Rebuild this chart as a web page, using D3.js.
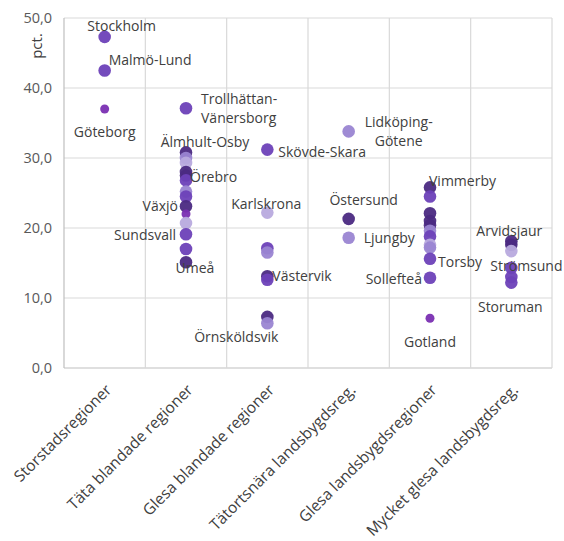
<!DOCTYPE html>
<html><head><meta charset="utf-8">
<script src="https://cdn.jsdelivr.net/npm/d3@7"></script>
<style>body{margin:0;background:#fff}svg{display:block}</style>
</head><body><svg id="c" width="564" height="541"></svg>
<script>
const categories = ["Storstadsregioner","Täta blandade regioner","Glesa blandade regioner","Tätortsnära landsbygdsreg.","Glesa landsbygdsregioner","Mycket glesa landsbygdsreg."];
const yTicks = [0,10,20,30,40,50];
// values per category (pct.)
const values = [
  [47.3, 42.5, 37.0],
  [37.1, 30.8, 30.0, 29.3, 28.0, 27.5, 26.8, 25.2, 24.5, 23.1, 22.0, 20.7, 19.1, 17.0, 15.1],
  [31.2, 22.2, 17.1, 16.5, 13.1, 12.6, 7.3, 6.4],
  [33.8, 21.3, 18.6],
  [25.8, 24.5, 22.1, 21.0, 20.4, 19.6, 18.8, 17.6, 17.2, 15.6, 12.9, 7.1],
  [18.1, 17.6, 16.7, 14.3, 13.0, 12.2]
];
// shade codes: d=dark, m=medium, l=light, x=lighter, s=small
const shades = [
  ["m","m","s"],
  ["m","d","l","x","d","d","m","l","m","d","s","x","m","m","d"],
  ["m","x","m","l","d","m","d","l"],
  ["l","d","l"],
  ["d","m","d","d","d","l","m","x","l","m","m","s"],
  ["d","d","x","m","m","m"]
];
// labelled regions: name, category index, point index
const labelNames = ["Stockholm","Malmö-Lund","Göteborg","Trollhättan-|Vänersborg","Älmhult-Osby","Örebro","Växjö","Sundsvall","Umeå",
  "Skövde-Skara","Karlskrona","Västervik","Örnsköldsvik","Lidköping-|Götene","Östersund","Ljungby",
  "Vimmerby","Torsby","Sollefteå","Gotland","Arvidsjaur","Strömsund","Storuman"];
const labelCat = [0,0,0,1,1,1,1,1,1,2,2,2,2,3,3,3,4,4,4,4,5,5,5];
const labelPt  = [0,1,2,0,1,5,9,12,14,0,1,4,6,0,1,2,0,9,10,11,0,3,5];

// layout (offsets from point, anchor)
const labelLayout = [
  [17,-11,"middle"],[4,-10,"start"],[0,23,"middle"],[15,0,"start"],[19,-10,"middle"],[4,2,"start"],[-8,0,"end"],[-10,1,"end"],[9,6,"middle"],
  [11,2,"start"],[-1,-9,"middle"],[5,0,"start"],[-31,20,"middle"],[50,0,"middle"],[15,-19,"middle"],[15,0,"start"],
  [-1,-6,"start"],[8,3,"start"],[-8,1,"end"],[0,24,"middle"],[-2,-10,"middle"],[-21,-2,"start"],[-1,24,"middle"]
];
const shadeColor = {d:"#4b2a82", m:"#6d41b8", l:"#9a85d2", x:"#b8aade", s:"#7a2fb2"};

const svg = d3.select("#c");
const L=64, R=552, T=18, B=368;
const x = d3.scaleBand().domain(categories).range([L,R]).padding(0);
const y = d3.scaleLinear().domain([0,50]).range([B,T]);

// gridlines
svg.append("g").selectAll("line.h").data(yTicks).join("line")
  .attr("x1",L).attr("x2",R).attr("y1",d=>y(d)).attr("y2",d=>y(d))
  .attr("stroke",d=>d===0?"#bfbfbf":"#d9d9d9").attr("stroke-width",1.2);
svg.append("g").selectAll("line.v").data(categories.map(c=>x(c)).concat([R])).join("line")
  .attr("x1",d=>d).attr("x2",d=>d).attr("y1",T).attr("y2",B)
  .attr("stroke",(d,i)=>i===0?"#bfbfbf":"#d9d9d9").attr("stroke-width",1.2);

// y axis
const yAxis = d3.axisLeft(y).tickValues(yTicks).tickSize(0).tickPadding(12)
  .tickFormat(d=>d3.format(".1f")(d).replace(".",","));
const ga = svg.append("g").attr("transform",`translate(${L},0)`).call(yAxis);
ga.select(".domain").remove();
ga.selectAll("text").attr("font-family","Open Sans").attr("font-size",14.5).attr("fill","#595959");

svg.append("text").attr("transform","translate(37,46) rotate(-90)").attr("text-anchor","middle")
  .attr("dy","0.35em").attr("font-family","Open Sans").attr("font-size",15).attr("fill","#404040").text("pct.");

// category labels
svg.append("g").selectAll("text").data(categories).join("text")
  .attr("transform",d=>`translate(${x(d)+x.bandwidth()/2+4},${B+19}) rotate(-45)`)
  .attr("text-anchor","end").attr("dy","0.35em")
  .attr("font-family","Open Sans").attr("font-size",15.6).attr("fill","#404040").text(d=>d);

// points
const pts = [];
values.forEach((arr,ci)=>arr.forEach((v,pi)=>pts.push({c:categories[ci],v,s:shades[ci][pi]})));
svg.append("g").selectAll("circle").data(pts).join("circle")
  .attr("cx",d=>x(d.c)+x.bandwidth()/2).attr("cy",d=>y(d.v))
  .attr("r",d=>d.s==="s"?4.5:6.3).attr("fill",d=>shadeColor[d.s]).attr("opacity",0.95);

// labels
const lg = svg.append("g");
labelNames.forEach((n,i)=>{
  const c = categories[labelCat[i]], v = values[labelCat[i]][labelPt[i]];
  const [dx,dy,anc] = labelLayout[i];
  const lines = n.split("|");
  const t = lg.append("text").attr("text-anchor",anc)
    .attr("font-family","Open Sans").attr("font-size",14).attr("fill","#404040");
  const px = x(c)+x.bandwidth()/2+dx, py = y(v)+dy;
  const n0 = lines.length;
  lines.forEach((ln,k)=>{
    t.append("tspan").attr("x",px).attr("y",py+(k-(n0-1)/2)*19).attr("dy","0.35em").text(ln);
  });
});
</script></body></html>
